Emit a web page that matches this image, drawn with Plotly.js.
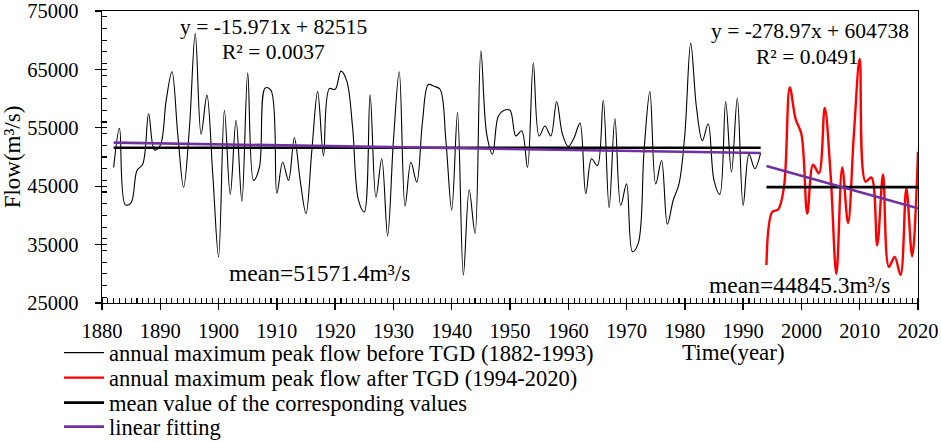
<!DOCTYPE html>
<html>
<head>
<meta charset="utf-8">
<script src="https://cdn.plot.ly/plotly-3.0.1.min.js"></script>
<style>html,body{margin:0;padding:0;background:#fff;}#chart{width:941px;height:442px;}</style>
</head>
<body>
<div id="chart"></div>
<script>
// ---- data ----
const beforeStartYear = 1882;
const beforeFlow = [
  48200, 54900, 41800, 42200, 47700, 48800, 57400, 51200, 52000,          // 1882-1890
  59600, 64600, 53900, 44800, 55000, 71200, 53900, 60600, 47100, 32900,   // 1891-1900
  58000, 43600, 56300, 42400, 64400, 46000, 48200, 61800, 61400, 43800,   // 1901-1910
  49100, 46000, 53300, 46000, 40300, 51100, 61200, 50200, 61700, 61600,   // 1911-1920
  64700, 63000, 55000, 42600, 40600, 60700, 43100, 49700, 36500, 52800,   // 1921-1930
  64600, 41600, 49100, 45700, 56200, 62400, 62100, 61600, 52800, 40900,   // 1931-1940
  57600, 29800, 44400, 36900, 68200, 53900, 50500, 57000, 58000, 58000,   // 1941-1950
  53600, 54500, 48200, 66100, 53600, 55300, 53600, 59500, 53900, 51800,   // 1951-1960
  53300, 55800, 43700, 49700, 48500, 59700, 41300, 56600, 41700, 45400,   // 1961-1970
  33800, 35200, 51100, 61200, 45400, 49400, 38500, 42600, 45400, 53900,   // 1971-1980
  69500, 58400, 52800, 55700, 46000, 43600, 59500, 47400, 60100, 41700,   // 1981-1990
  50500, 48000, 50700                                                     // 1991-1993
];
const afterStartYear = 1994;
const afterFlow = [
  31500, 40600, 41000, 44800, 61900, 56500, 53900,                        // 1994-2000
  40300, 48700, 47200, 58400, 47100, 30000, 48200, 38700, 53900, 66800,   // 2001-2010
  45800, 46500, 34900, 47000, 31200, 32900, 29800, 44600, 33000, 50900    // 2011-2020
];
const meanBefore = 51571.4;
const meanAfter = 44845.3;
const fitBefore = {slope: -15.971, intercept: 82515, r2: 0.0037};
const fitAfter = {slope: -278.97, intercept: 604738, r2: 0.0491};
const xTickYears = [1880, 1890, 1900, 1910, 1920, 1930, 1940, 1950, 1960, 1970, 1980, 1990, 2000, 2010, 2020];
const yTickValues = [25000, 35000, 45000, 55000, 65000, 75000];
const legendNames = [
  'annual maximum peak flow before TGD (1882-1993)',
  'annual maximum peak flow after TGD (1994-2020)',
  'mean value of the corresponding values',
  'linear fitting'
];

// ---- derived ----
const beforeYears = beforeFlow.map((_, i) => beforeStartYear + i);
const afterYears = afterFlow.map((_, i) => afterStartYear + i);
const bFirst = beforeYears[0], bLast = beforeYears[beforeYears.length - 1];
const aFirst = afterYears[0], aLast = afterYears[afterYears.length - 1];
const fitVal = (f, x) => f.slope * x + f.intercept;

const FONT = 'Liberation Serif, Times New Roman, serif';
const PURPLE = '#7030A0';

const traces = [
  {x: beforeYears, y: beforeFlow, type: 'scatter', mode: 'lines', name: legendNames[0], legend: 'legend',
   line: {color: '#000000', width: 1.1, shape: 'spline', smoothing: 1}},
  {x: afterYears, y: afterFlow, type: 'scatter', mode: 'lines', name: legendNames[1], legend: 'legend2',
   line: {color: '#FF0000', width: 2.4, shape: 'spline', smoothing: 1}},
  {x: [bFirst, bLast], y: [meanBefore, meanBefore], type: 'scatter', mode: 'lines', name: legendNames[2],
   legend: 'legend3', line: {color: '#000000', width: 2.6}},
  {x: [aFirst, aLast], y: [meanAfter, meanAfter], type: 'scatter', mode: 'lines', name: legendNames[2],
   showlegend: false, line: {color: '#000000', width: 2.6}},
  {x: [bFirst, bLast], y: [fitVal(fitBefore, bFirst), fitVal(fitBefore, bLast)], type: 'scatter', mode: 'lines',
   name: legendNames[3], legend: 'legend4', line: {color: PURPLE, width: 2.6}},
  {x: [aFirst, aLast], y: [fitVal(fitAfter, aFirst), fitVal(fitAfter, aLast)], type: 'scatter', mode: 'lines',
   name: legendNames[3], showlegend: false, line: {color: PURPLE, width: 2.6}},
  // carrier for the inside half of the major ticks
  {x: [xTickYears[0]], y: [yTickValues[0]], xaxis: 'x2', yaxis: 'y2', type: 'scatter', mode: 'none',
   showlegend: false, hoverinfo: 'skip'}
];

const fmtEq = f => 'y = ' + f.slope + 'x + ' + f.intercept;
const fmtR2 = f => 'R² = ' + f.r2.toFixed(4);
const eqFont = {family: FONT, size: 21.5, color: '#000'};
const meanFont = {family: FONT, size: 23.5, color: '#000'};

const W = 941, H = 442;
const M = {l: 102, r: 23, t: 11, b: 139, autoexpand: false};
const PW = W - M.l - M.r, PH = H - M.t - M.b;
const px2paperX = px => (px - M.l) / PW;
const px2paperY = py => (H - M.b - py) / PH;

const legendBase = {
  xanchor: 'left', yanchor: 'middle', orientation: 'v',
  font: {family: FONT, size: 22.5, color: '#000'}, itemwidth: 40,
  bgcolor: 'rgba(0,0,0,0)', borderwidth: 0
};
const legendRowsPx = [353, 378, 403, 427];
const legendLeftPx = 59;

const layout = {
  width: W, height: H,
  margin: M,
  paper_bgcolor: '#fff', plot_bgcolor: '#fff',
  font: {family: FONT, size: 20.5, color: '#000'},
  showlegend: true,
  legend:  Object.assign({}, legendBase, {x: px2paperX(legendLeftPx), y: px2paperY(legendRowsPx[0])}),
  legend2: Object.assign({}, legendBase, {x: px2paperX(legendLeftPx), y: px2paperY(legendRowsPx[1])}),
  legend3: Object.assign({}, legendBase, {x: px2paperX(legendLeftPx), y: px2paperY(legendRowsPx[2])}),
  legend4: Object.assign({}, legendBase, {x: px2paperX(legendLeftPx), y: px2paperY(legendRowsPx[3])}),
  xaxis: {
    range: [xTickYears[0], xTickYears[xTickYears.length - 1]],
    tickvals: xTickYears, ticktext: xTickYears.map(String),
    ticks: 'outside', ticklen: 6, tickwidth: 1.3, tickcolor: '#000',
    showline: true, linecolor: '#000', linewidth: 1.3, mirror: true,
    showgrid: false, zeroline: false,
    tickfont: {family: FONT, size: 20.5, color: '#000'},
    minor: {dtick: 1, ticks: 'inside', ticklen: 5, tickwidth: 1.1, tickcolor: '#000', showgrid: false},
    ticklabelstandoff: 3, ticklabeloverflow: 'allow'
  },
  yaxis: {
    range: [yTickValues[0], yTickValues[yTickValues.length - 1]],
    tickvals: yTickValues, ticktext: yTickValues.map(String),
    ticks: 'outside', ticklen: 6, tickwidth: 1.3, tickcolor: '#000',
    showline: true, linecolor: '#000', linewidth: 1.3, mirror: true,
    showgrid: false, zeroline: false,
    tickfont: {family: FONT, size: 20.5, color: '#000'},
    minor: {dtick: 2000, ticks: 'inside', ticklen: 5, tickwidth: 1.1, tickcolor: '#000', showgrid: false},
    ticklabelstandoff: 12, ticklabeloverflow: 'allow',
    title: {text: 'Flow(m³/s)', font: {family: FONT, size: 23, color: '#000'}, standoff: 4}
  },
  xaxis2: {overlaying: 'x', range: [xTickYears[0], xTickYears[xTickYears.length - 1]],
           tickvals: xTickYears, ticks: 'inside', ticklen: 5, tickwidth: 1.3, tickcolor: '#000',
           showticklabels: false, showline: false, showgrid: false, zeroline: false},
  yaxis2: {overlaying: 'y', range: [yTickValues[0], yTickValues[yTickValues.length - 1]],
           tickvals: yTickValues, ticks: 'inside', ticklen: 5, tickwidth: 1.3, tickcolor: '#000',
           showticklabels: false, showline: false, showgrid: false, zeroline: false},
  annotations: [
    {x: 1909.4, y: 72300, xref: 'x', yref: 'y', text: fmtEq(fitBefore), showarrow: false, font: eqFont},
    {x: 1909.5, y: 68000, xref: 'x', yref: 'y', text: fmtR2(fitBefore), showarrow: false, font: eqFont},
    {x: 1917.4, y: 30200, xref: 'x', yref: 'y', text: 'mean=' + meanBefore + 'm³/s', showarrow: false, font: meanFont},
    {x: 2001.4, y: 71500, xref: 'x', yref: 'y', text: fmtEq(fitAfter), showarrow: false, font: eqFont},
    {x: 2001.1, y: 67200, xref: 'x', yref: 'y', text: fmtR2(fitAfter), showarrow: false, font: eqFont},
    {x: 1999.7, y: 28100, xref: 'x', yref: 'y', text: 'mean=' + meanAfter + 'm³/s', showarrow: false, font: meanFont},
    {x: px2paperX(733), y: px2paperY(352), xref: 'paper', yref: 'paper', xanchor: 'center', yanchor: 'middle',
     text: 'Time(year)', showarrow: false, font: {family: FONT, size: 23, color: '#000'}}
  ]
};

Plotly.newPlot('chart', traces, layout, {displayModeBar: false, staticPlot: true});
</script>
</body>
</html>
